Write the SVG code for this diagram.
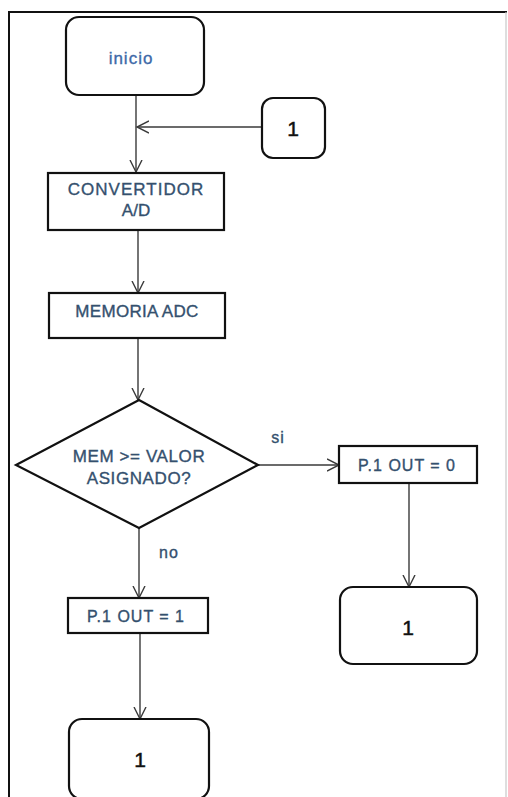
<svg xmlns="http://www.w3.org/2000/svg" width="508" height="797" viewBox="0 0 508 797">
  <style>
    .box { fill: #ffffff; stroke: #111111; stroke-width: 2.2; }
    .edge { fill: none; stroke: #3a3a3a; stroke-width: 1.4; }
    .lbl { font-family: "Liberation Sans", Arial, sans-serif; font-size: 16px; fill: #34506e; stroke: #34506e; stroke-width: 0.35; letter-spacing: 1px; text-anchor: middle; }
    .num { font-family: "Liberation Sans", Arial, sans-serif; font-size: 21px; fill: #111111; stroke: #111111; stroke-width: 0.5; text-anchor: middle; }
  </style>
  <defs>
    <marker id="open" markerUnits="userSpaceOnUse" markerWidth="14" markerHeight="14" refX="12" refY="7" orient="auto">
      <path d="M0,1 L12,7 L0,13" fill="none" stroke="#3a3a3a" stroke-width="1.4"/>
    </marker>
  </defs>

  <rect width="508" height="797" fill="#ffffff"/>

  <!-- page frame -->
  <g id="frame">
    <line x1="8" y1="12" x2="507" y2="12" stroke="#111" stroke-width="2"/>
    <line x1="9" y1="11" x2="9" y2="797" stroke="#111" stroke-width="2"/>
    <line x1="506" y1="12" x2="506" y2="797" stroke="#c8c8c8" stroke-width="1.2"/>
  </g>

  <!-- connectors -->
  <g id="connectors">
    <path class="edge" d="M136,95 V172" marker-end="url(#open)"/>
    <path class="edge" d="M262,127 H137" marker-end="url(#open)"/>
    <path class="edge" d="M138,230 V293" marker-end="url(#open)"/>
    <path class="edge" d="M138,338 V400" marker-end="url(#open)"/>
    <path class="edge" d="M258,465 H339" marker-end="url(#open)"/>
    <path class="edge" d="M409,483 V587" marker-end="url(#open)"/>
    <path class="edge" d="M139,528 V598" marker-end="url(#open)"/>
    <path class="edge" d="M140,633 V719" marker-end="url(#open)"/>
    <text class="lbl" x="278" y="443">si</text>
    <text class="lbl" x="169" y="558">no</text>
  </g>

  <g id="inicio">
    <rect class="box" x="66" y="17" width="138" height="78" rx="13"/>
    <text class="lbl" x="131" y="64" style="fill:#3d69a8;stroke:#3d69a8;font-size:17px">inicio</text>
  </g>

  <g id="connector-in">
    <rect class="box" x="262" y="98" width="63" height="60" rx="11"/>
    <text class="num" x="293" y="136">1</text>
  </g>

  <g id="convertidor">
    <rect class="box" x="48" y="173" width="176" height="57"/>
    <text class="lbl" x="136" y="195" style="font-size:17px">CONVERTIDOR</text>
    <text class="lbl" x="136" y="216" style="font-size:17px;letter-spacing:0">A/D</text>
  </g>

  <g id="memoria">
    <rect class="box" x="49" y="293" width="176" height="45"/>
    <text class="lbl" x="137" y="317" style="font-size:17px;letter-spacing:0.3px">MEMORIA ADC</text>
  </g>

  <g id="decision">
    <polygon class="box" points="139,400 258,465 139,528 16,465"/>
    <text class="lbl" x="139" y="462" style="font-size:17px;letter-spacing:0.6px">MEM &gt;= VALOR</text>
    <text class="lbl" x="139" y="484" style="font-size:17px;letter-spacing:0.6px">ASIGNADO?</text>
  </g>

  <g id="out0">
    <rect class="box" x="339" y="446" width="138" height="37"/>
    <text class="lbl" x="407" y="471">P.1 OUT = 0</text>
  </g>

  <g id="connector-out-right">
    <rect class="box" x="340" y="587" width="137" height="77" rx="13"/>
    <text class="num" x="408" y="635">1</text>
  </g>

  <g id="out1">
    <rect class="box" x="68" y="598" width="140" height="35"/>
    <text class="lbl" x="136" y="622">P.1 OUT = 1</text>
  </g>

  <g id="connector-out-left">
    <rect class="box" x="69" y="719" width="140" height="80" rx="13"/>
    <text class="num" x="140" y="767">1</text>
  </g>
</svg>
